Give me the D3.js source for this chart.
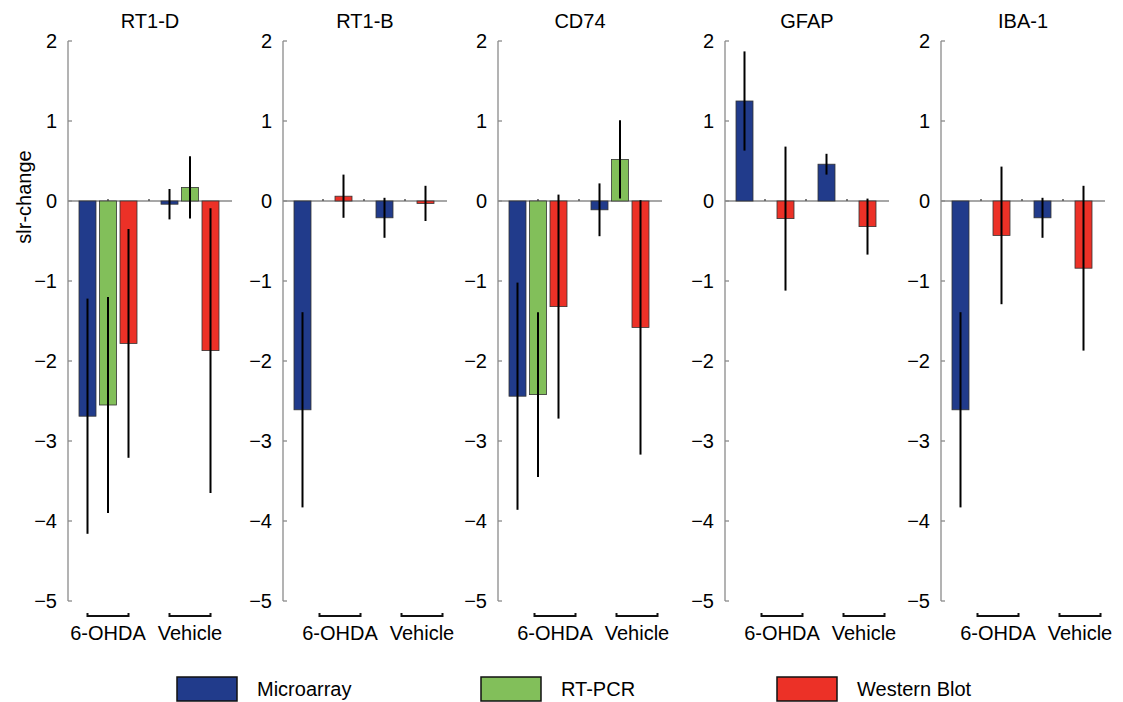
<!DOCTYPE html>
<html>
<head>
<meta charset="utf-8">
<script src="https://cdn.jsdelivr.net/npm/d3@7"></script>
<style>
  body { margin: 0; background: #fff; }
  text { font-family: 'Liberation Sans', Arial, sans-serif; fill: #000; }
</style>
</head>
<body>
<div id="chart"></div>
<script>
var genes = ['RT1-D', 'RT1-B', 'CD74', 'GFAP', 'IBA-1'];
var groups = ['6-OHDA', 'Vehicle'];
var series = ['Microarray', 'RT-PCR', 'Western Blot'];
var yTicks = [2, 1, 0, -1, -2, -3, -4, -5];

// values per gene, null = not measured
var microarray6 = [-2.69, -2.61, -2.44, 1.25, -2.61];
var microarray6Err = [1.47, 1.22, 1.42, 0.62, 1.22];
var microarrayVeh = [-0.04, -0.21, -0.11, 0.46, -0.21];
var microarrayVehErr = [0.19, 0.25, 0.33, 0.13, 0.25];

var rtpcr6 = [-2.55, null, -2.42, null, null];
var rtpcr6Err = [1.35, null, 1.03, null, null];
var rtpcrVeh = [0.17, null, 0.52, null, null];
var rtpcrVehErr = [0.39, null, 0.49, null, null];

var western6 = [-1.78, 0.06, -1.32, -0.22, -0.43];
var western6Err = [1.43, 0.27, 1.40, 0.90, 0.86];
var westernVeh = [-1.87, -0.03, -1.58, -0.32, -0.84];
var westernVehErr = [1.78, 0.22, 1.59, 0.35, 1.03];

var colors = ['#213b8b', '#82bf5a', '#ec3127'];

var width = 1123, height = 702;
var axisX = [68, 283, 498, 725, 941];
var bracketShift = [0, 17, 17, 17, 17];
var panelWidth = 164;
var barWidth = 17;

var svg = d3.select('#chart').append('svg')
  .attr('width', width)
  .attr('height', height);

var y = d3.scaleLinear().domain([-5, 2]).range([601, 41]);
var x = d3.scaleLinear().domain([0, 8]).range([0, panelWidth]);

var vals = [
  [microarray6, microarrayVeh, microarray6Err, microarrayVehErr],
  [rtpcr6, rtpcrVeh, rtpcr6Err, rtpcrVehErr],
  [western6, westernVeh, western6Err, westernVehErr]
];

genes.forEach(function(gene, gi) {
  var g = svg.append('g').attr('transform', 'translate(' + axisX[gi] + ',0)');

  // y axis
  g.append('line')
    .attr('x1', 0).attr('x2', 0)
    .attr('y1', y(2)).attr('y2', y(-5))
    .attr('stroke', '#8a8a8a').attr('stroke-width', 1.3);
  g.selectAll('.tick').data(yTicks).enter().append('line')
    .attr('x1', 0).attr('x2', 4)
    .attr('y1', function(d) { return y(d); })
    .attr('y2', function(d) { return y(d); })
    .attr('stroke', '#8a8a8a').attr('stroke-width', 1.3);
  g.selectAll('.tl').data(yTicks).enter().append('text')
    .attr('x', -11)
    .attr('y', function(d) { return y(d); })
    .attr('dy', '0.36em')
    .attr('text-anchor', 'end')
    .style('font-size', '20px')
    .text(function(d) { return d < 0 ? '\u2212' + Math.abs(d) : d; });

  // zero line
  g.append('line')
    .attr('x1', 0).attr('x2', x(8))
    .attr('y1', y(0)).attr('y2', y(0))
    .attr('stroke', '#8a8a8a').attr('stroke-width', 1.3);
  g.selectAll('.xt').data([2, 4, 6]).enter().append('line')
    .attr('x1', function(d) { return x(d) - 1; })
    .attr('x2', function(d) { return x(d) - 1; })
    .attr('y1', y(0) - 2).attr('y2', y(0))
    .attr('stroke', '#555').attr('stroke-width', 1.5);

  // title
  g.append('text')
    .attr('x', x(4))
    .attr('y', 28)
    .attr('text-anchor', 'middle')
    .style('font-size', '20px')
    .text(gene);

  // bars + error bars
  groups.forEach(function(grp, k) {
    vals.forEach(function(sv, si) {
      var v = sv[k][gi];
      var e = sv[k + 2][gi];
      if (v === null) return;
      var cx = x(k * 4 + si + 1) - 1;
      g.append('rect')
        .attr('x', cx - barWidth / 2)
        .attr('width', barWidth)
        .attr('y', y(Math.max(0, v)))
        .attr('height', Math.abs(y(v) - y(0)))
        .attr('fill', colors[si])
        .attr('stroke', '#333')
        .attr('stroke-width', 0.8);
      g.append('line')
        .attr('x1', cx).attr('x2', cx)
        .attr('y1', y(v + e)).attr('y2', y(v - e))
        .attr('stroke', '#000').attr('stroke-width', 2);
    });

    // bracket under the group
    var bx1 = x(k * 4 + 1) - 1 + bracketShift[gi];
    var bx2 = x(k * 4 + 3) - 1 + bracketShift[gi];
    g.append('path')
      .attr('d', 'M' + bx1 + ',613V616H' + bx2 + 'V613')
      .attr('fill', 'none')
      .attr('stroke', '#111').attr('stroke-width', 2);
    g.append('text')
      .attr('x', (bx1 + bx2) / 2)
      .attr('y', 640)
      .attr('text-anchor', 'middle')
      .style('font-size', '20px')
      .text(grp);
  });
});

// y label
svg.append('text')
  .attr('transform', 'translate(31,197) rotate(-90)')
  .attr('text-anchor', 'middle')
  .style('font-size', '20px')
  .text('slr-change');

// legend
var legX = [177, 481, 777];
var leg = svg.selectAll('.leg').data(series).enter().append('g')
  .attr('transform', function(d, i) { return 'translate(' + legX[i] + ',677)'; });
leg.append('rect')
  .attr('width', 60).attr('height', 24)
  .attr('fill', function(d, i) { return colors[i]; })
  .attr('stroke', '#111').attr('stroke-width', 1.5);
leg.append('text')
  .attr('x', 80).attr('y', 19)
  .style('font-size', '20px')
  .text(function(d) { return d; });
</script>
</body>
</html>
